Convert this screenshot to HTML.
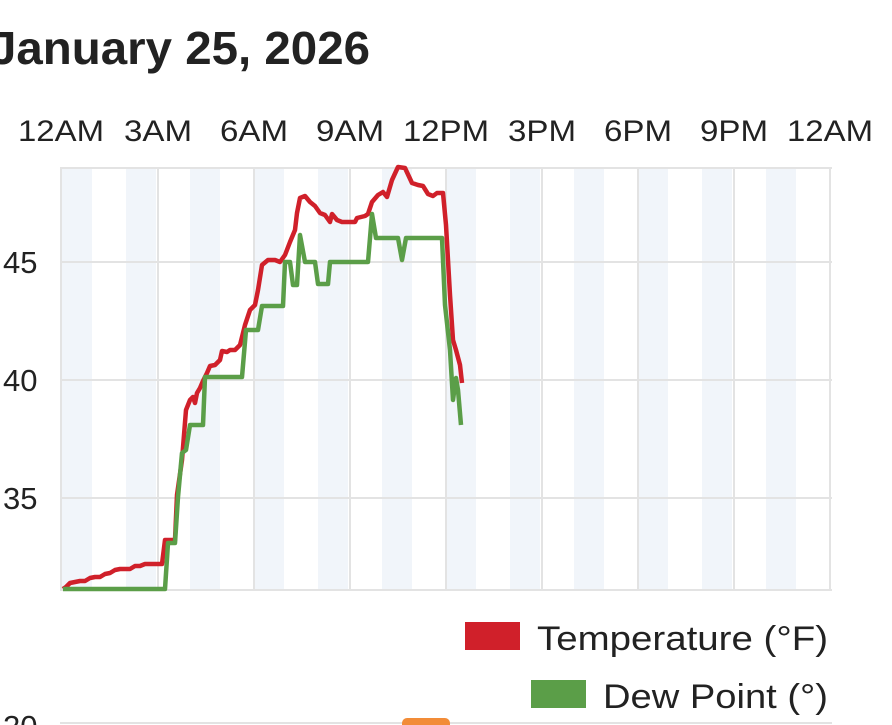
<!DOCTYPE html>
<html><head><meta charset="utf-8"><style>
body{margin:0;width:892px;height:725px;overflow:hidden;background:#fff;font-family:"Liberation Sans",sans-serif;}
</style></head><body>
<svg width="892" height="725" xmlns="http://www.w3.org/2000/svg" style="position:absolute;left:0;top:0">
<text x="-10" y="64" font-size="46" font-weight="bold" fill="#222" textLength="380" lengthAdjust="spacingAndGlyphs">January 25, 2026</text>
<g fill="#f1f5fa">
<rect x="62" y="168" width="30" height="422"/><rect x="126" y="168" width="30" height="422"/><rect x="190" y="168" width="30" height="422"/><rect x="254" y="168" width="30" height="422"/><rect x="318" y="168" width="30" height="422"/><rect x="382" y="168" width="30" height="422"/><rect x="446" y="168" width="30" height="422"/><rect x="510" y="168" width="30" height="422"/><rect x="574" y="168" width="30" height="422"/><rect x="638" y="168" width="30" height="422"/><rect x="702" y="168" width="30" height="422"/><rect x="766" y="168" width="30" height="422"/>
</g>
<g stroke="#e3e3e3" stroke-width="2">
<line x1="60" y1="168" x2="832" y2="168"/><line x1="60" y1="262" x2="832" y2="262"/><line x1="60" y1="380" x2="832" y2="380"/><line x1="60" y1="498" x2="832" y2="498"/><line x1="60" y1="590" x2="832" y2="590"/>
<line x1="61" y1="168" x2="61" y2="590"/><line x1="158" y1="168" x2="158" y2="590"/><line x1="254" y1="168" x2="254" y2="590"/><line x1="350" y1="168" x2="350" y2="590"/><line x1="446" y1="168" x2="446" y2="590"/><line x1="542" y1="168" x2="542" y2="590"/><line x1="638" y1="168" x2="638" y2="590"/><line x1="734" y1="168" x2="734" y2="590"/><line x1="830" y1="168" x2="830" y2="590"/>
<line x1="60" y1="723" x2="832" y2="723"/>
</g>
<g font-size="30" fill="#222" text-anchor="middle">
<text x="61" y="141" textLength="86" lengthAdjust="spacingAndGlyphs">12AM</text><text x="158" y="141" textLength="68" lengthAdjust="spacingAndGlyphs">3AM</text><text x="254" y="141" textLength="68" lengthAdjust="spacingAndGlyphs">6AM</text><text x="350" y="141" textLength="68" lengthAdjust="spacingAndGlyphs">9AM</text><text x="446" y="141" textLength="86" lengthAdjust="spacingAndGlyphs">12PM</text><text x="542" y="141" textLength="68" lengthAdjust="spacingAndGlyphs">3PM</text><text x="638" y="141" textLength="68" lengthAdjust="spacingAndGlyphs">6PM</text><text x="734" y="141" textLength="68" lengthAdjust="spacingAndGlyphs">9PM</text><text x="830" y="141" textLength="86" lengthAdjust="spacingAndGlyphs">12AM</text>
</g>
<g font-size="31" fill="#222">
<text x="3" y="273">45</text><text x="3" y="391">40</text><text x="3" y="509">35</text><text x="3" y="737">20</text>
</g>
<polyline fill="none" stroke="#d0202a" stroke-width="4.5" stroke-linejoin="round" points="63,589 66,587 70,583 75,582 80,581 85,581 90,578 95,577 100,577 105,574 110,573 115,570 120,569 125,569 130,569 135,566 140,566 145,564 150,564 155,564 162,564 165,540 175,540 177,495 182,460 186,410 190,400 193,397 195,403 197,393 200,388 203,381 207,373 210,366 215,365 220,360 222,351 227,352 230,350 235,350 240,345 245,325 250,310 255,305 258,290 262,265 268,260 275,260 280,262 285,255 290,242 295,230 297,213 300,198 305,196 310,202 315,206 320,213 325,215 330,222 332,214 337,220 342,222 350,222 355,222 357,218 365,216 368,214 372,202 378,195 383,192 387,197 392,180 398,167 405,168 412,183 418,185 423,186 428,194 433,196 437,193 443,193 446,225 450,295 453,340 456,350 460,365 462,383"/>
<polyline fill="none" stroke="#5b9e48" stroke-width="4.5" stroke-linejoin="round" points="63,589 165,589 168,543 175,543 178,497 182,453 186,450 190,425 203,425 205,377 242,377 246,330 258,330 262,306 283,306 285,262 290,262 293,285 297,285 300,235 305,262 315,262 318,284 328,284 330,262 368,262 372,214 376,238 398,238 402,260 406,238 442,238 445,305 450,350 453,400 456,378 458,390 461,425"/>
<rect x="465" y="622" width="55" height="28" fill="#d0202a"/>
<text x="537" y="650" font-size="34" fill="#222" textLength="291" lengthAdjust="spacingAndGlyphs">Temperature (°F)</text>
<rect x="531" y="680" width="55" height="28" fill="#5b9e48"/>
<text x="603" y="708" font-size="34" fill="#222" textLength="225" lengthAdjust="spacingAndGlyphs">Dew Point (°)</text>
<rect x="402" y="718" width="48" height="12" rx="5" fill="#f28c38"/>
</svg>
</body></html>
